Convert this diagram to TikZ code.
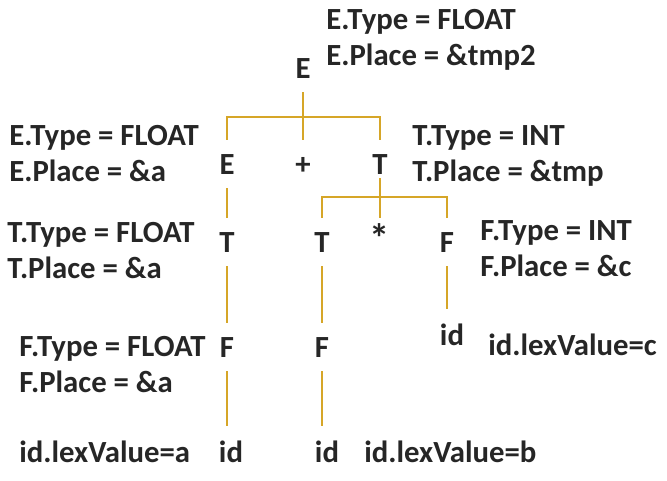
\documentclass[tikz,border=0pt]{standalone}
\usepackage{fontspec}
\setmainfont{Carlito}
\usepackage{tikz}
\definecolor{treeline}{RGB}{214,166,40}
\definecolor{ink}{RGB}{38,38,38}

\begin{document}
\begin{tikzpicture} [
    font = \fontsize{17.5}{20.4}\selectfont\bfseries,
    sym/.style = {anchor = base, text = ink, inner xsep = 0pt, inner ysep = 0.28cm, text height = 0.4cm, text depth = 0pt},
    idsym/.style = {sym, text height = 0.43cm},
    attr/.style = {anchor = base west, text = ink, align = left, inner sep = 0pt},
    edge/.style = {draw = treeline, line width = 0.8pt}
]
\useasboundingbox (0,0) rectangle (13.34,9.6);

% tree symbols
\node (E0) at (6.06, 8.04) [sym] {E};
\node (E1) at (4.54, 6.12) [sym] {E};
\node (plus) at (6.06, 6.12) [sym] {+};
\node (T1) at (7.60, 6.12) [sym] {T};
\node (T2a) at (4.54, 4.56) [sym] {T};
\node (T2b) at (6.44, 4.56) [sym] {T};
\node (star) at (7.60, 4.56) [sym] {\fontsize{23}{23}\selectfont *};
\node (F2) at (8.94, 4.56) [sym] {F};
\node (F3a) at (4.54, 2.46) [sym] {F};
\node (F3b) at (6.44, 2.46) [sym] {F};
\node (idc) at (9.04, 2.70) [idsym] {id};
\node (ida) at (4.62, 0.36) [idsym] {id};
\node (idb) at (6.54, 0.36) [idsym] {id};
\coordinate (bar1) at (6.06, 7.26);
\coordinate (bar2) at (7.60, 5.66);

% attributes (anchored at the last line)
\node (attrE0) at (6.52, 8.30) [attr] {E.Type = FLOAT\\E.Place = \&tmp2};
\node (attrE1) at (0.18, 5.98) [attr] {E.Type = FLOAT\\E.Place = \&a};
\node (attrT1) at (8.24, 5.98) [attr] {T.Type = INT\\T.Place = \&tmp};
\node (attrT2) at (0.14, 4.04) [attr] {T.Type = FLOAT\\T.Place = \&a};
\node (attrF2) at (9.60, 4.08) [attr] {F.Type = INT\\F.Place = \&c};
\node (attrF3) at (0.38, 1.76) [attr] {F.Type = FLOAT\\F.Place = \&a};
\node (lexa) at (0.38, 0.36) [attr] {id.lexValue=a};
\node (lexb) at (7.28, 0.36) [attr] {id.lexValue=b};
\node (lexc) at (9.76, 2.50) [attr] {id.lexValue=c};

% edges
\draw [edge] (E0.south) -- (plus.north);
\draw [edge] (E1.north) |- (bar1) -| (T1.north);
\draw [edge] (E1.south) -- (T2a.north);
\draw [edge, shorten <= -0.2cm] (T1.south) -- (star.north);
\draw [edge] (T2b.north) |- (bar2) -| (F2.north);
\draw [edge] (T2a.south) -- (F3a.north);
\draw [edge] (T2b.south) -- (F3b.north);
\draw [edge] (F2.south) -- (F2.south |- idc.north);
\draw [edge] (F3a.south) -- (F3a.south |- ida.north);
\draw [edge] (F3b.south) -- (F3b.south |- idb.north);

\end{tikzpicture}
\end{document}
